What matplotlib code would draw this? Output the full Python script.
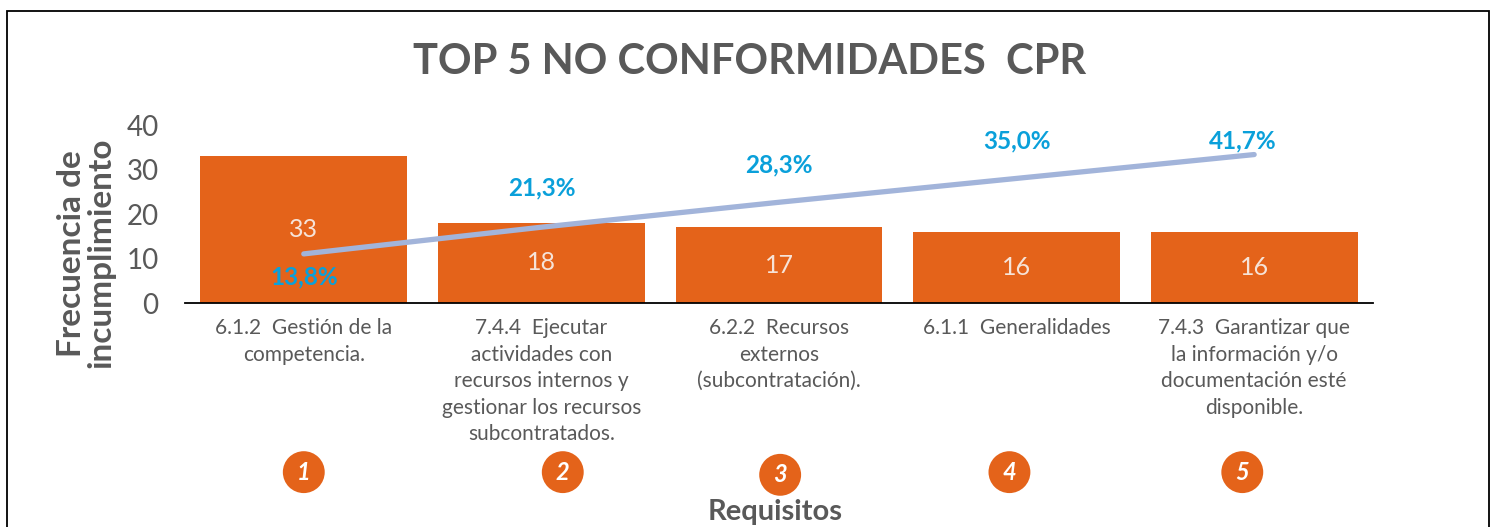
import matplotlib.pyplot as plt
from matplotlib.patches import Rectangle

plt.rcParams['font.family'] = ['Lato', 'DejaVu Sans']

categories = [
    "6.1.2  Gestión de la\ncompetencia.",
    "7.4.4  Ejecutar\nactividades con\nrecursos internos y\ngestionar los recursos\nsubcontratados.",
    "6.2.2  Recursos\nexternos\n(subcontratación).",
    "6.1.1  Generalidades",
    "7.4.3  Garantizar que\nla información y/o\ndocumentación esté\ndisponible.",
]
frecuencia = [33, 18, 17, 16, 16]
acumulado = [0.138, 0.213, 0.283, 0.350, 0.417]
pct_labels = ["13,8%", "21,3%", "28,3%", "35,0%", "41,7%"]
numeros = ["1", "2", "3", "4", "5"]

naranja = "#E4631A"
azul = "#0AA0DA"
gris = "#595959"

fig = plt.figure(figsize=(14.93, 5.27), dpi=100)
ax = fig.add_axes([0.1239, 0.425, 0.7957, 0.3378])

x = list(range(len(categories)))
bars = ax.bar(x, frecuencia, width=0.87, color=naranja)
for xi, v in zip(x, frecuencia):
    ax.text(xi, v / 2, str(v), ha='center', va='center', fontsize=18,
            color='#F6E3D8', fontweight='normal')

ax.set_xlim(-0.5, len(categories) - 0.5)
ax.set_ylim(0, 40)
ax.set_yticks([0, 10, 20, 30, 40])
ax.tick_params(axis='y', length=0, labelsize=20, labelcolor=gris, pad=19)
ax.set_xticks(x)
ax.set_xticklabels(categories, fontsize=15, color=gris, linespacing=1.4,
                   va='top')
ax.tick_params(axis='x', length=0, pad=11)
for s in ['top', 'right', 'left']:
    ax.spines[s].set_visible(False)
ax.spines['bottom'].set_color('black')
ax.spines['bottom'].set_linewidth(1.3)

ax.set_ylabel("Frecuencia de\nincumplimiento", fontsize=24, fontweight='bold',
              color=gris, linespacing=1.0, labelpad=8, y=0.28)

# linea acumulada en eje secundario
ax2 = ax.twinx()
ax2.set_ylim(0, 0.5)
ax2.axis('off')
ax2.plot(x, acumulado, color='#A2B4DA', linewidth=3.8, solid_capstyle='round')
offsets = [(0, -23), (0, 39), (0, 37), (0, 37), (-11, 14)]
for xi, v, lab, off in zip(x, acumulado, pct_labels, offsets):
    ax2.annotate(lab, (xi, v), xytext=off, textcoords='offset pixels',
                 ha='center', va='center', fontsize=17.5, fontweight='bold',
                 color=azul)

# numeros en circulos
circ_dx = [0.0, 0.09, 0.005, -0.03, -0.05]
circ_y = [-0.95, -0.95, -0.965, -0.95, -0.95]
trans = ax.get_xaxis_transform()
for xi, n, dx, cy in zip(x, numeros, circ_dx, circ_y):
    ax.text(xi + dx, cy, n, transform=trans, ha='center', va='center',
            fontsize=17, fontweight='bold', fontstyle='italic', color='white',
            bbox=dict(boxstyle='circle,pad=0.4', fc=naranja, ec='none'))

ax.text(0.497, -1.175, "Requisitos", transform=ax.transAxes, ha='center',
        va='center', fontsize=21, fontweight='bold', color=gris)

fig.text(0.502, 0.882, "TOP 5 NO CONFORMIDADES  CPR", ha='center', va='center',
         fontsize=30, fontweight='bold', color=gris)

fig.patches.append(Rectangle((7 / 1493, -0.02), 1482 / 1493, 1 - 11 / 527 + 0.02,
                             transform=fig.transFigure, fill=False,
                             ec='black', lw=1.3))

fig.savefig("out.png", dpi=100)
